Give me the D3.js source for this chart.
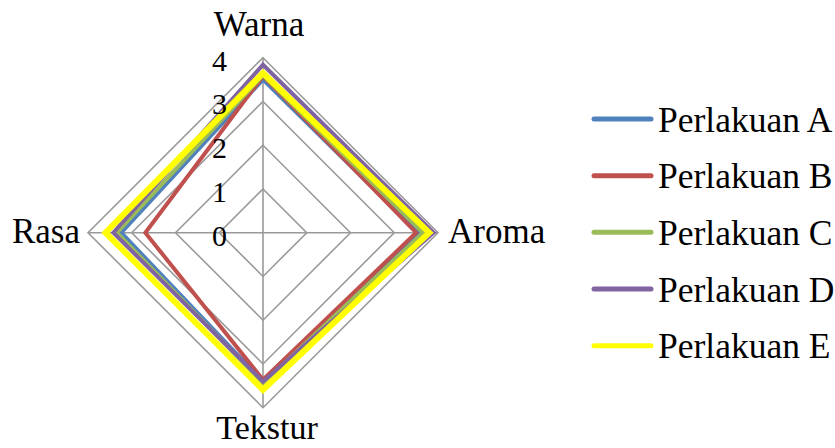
<!DOCTYPE html>
<html>
<head>
<meta charset="utf-8">
<script src="https://cdn.jsdelivr.net/npm/d3@7"></script>
<style>
  html, body { margin: 0; padding: 0; background: #fff; }
  svg { display: block; }
</style>
</head>
<body>
<svg id="chart" width="835" height="448"></svg>
<script>
const categories = ["Warna", "Aroma", "Tekstur", "Rasa"];
const seriesNames = ["Perlakuan A", "Perlakuan B", "Perlakuan C", "Perlakuan D", "Perlakuan E"];
const perlakuanA = [3.50, 3.55, 3.40, 3.24];
const perlakuanB = [3.58, 3.50, 3.36, 2.69];
const perlakuanC = [3.60, 3.66, 3.44, 3.34];
const perlakuanD = [3.84, 3.90, 3.40, 3.42];
const perlakuanE = [3.65, 3.80, 3.59, 3.60];
const tickLabels = ["0", "1", "2", "3", "4"];
const seriesColors = ["#4F81BD", "#C0504D", "#9BBB59", "#8064A2", "#FFFF00"];

const seriesValues = [perlakuanA, perlakuanB, perlakuanC, perlakuanD, perlakuanE];
const FONT = "'Liberation Serif', 'Times New Roman', Tinos, 'DejaVu Serif', serif";

const svg = d3.select("#chart");
const cx = 263, cy = 232.7, R = 175;
const r = d3.scaleLinear().domain([0, 4]).range([0, R]);
const angle = d3.scalePoint().domain(categories).range([0, 2 * Math.PI * 3 / 4]);

const g = svg.append("g").attr("transform", `translate(${cx},${cy})`);

const gridColor = "#9a9a9a";
const ringLine = d3.lineRadial().curve(d3.curveLinearClosed)
  .angle(d => angle(d.c)).radius(d => r(d.v));

[1, 2, 3, 4].forEach(lv => {
  g.append("path")
    .attr("d", ringLine(categories.map(c => ({ c, v: lv }))))
    .attr("fill", "none").attr("stroke", gridColor).attr("stroke-width", 1.6);
});
categories.forEach(c => {
  const a = angle(c);
  g.append("line")
    .attr("x1", 0).attr("y1", 0)
    .attr("x2", r(4) * Math.sin(a)).attr("y2", -r(4) * Math.cos(a))
    .attr("stroke", gridColor).attr("stroke-width", 1.6);
});

seriesValues.forEach((vals, i) => {
  g.append("path")
    .attr("d", ringLine(categories.map((c, k) => ({ c, v: vals[k] }))))
    .attr("fill", "none")
    .attr("stroke", seriesColors[i])
    .attr("stroke-width", i === 4 ? 6 : 4)
    .attr("stroke-linejoin", "miter");
});

tickLabels.forEach(t => {
  g.append("text")
    .attr("x", -36).attr("y", -r(+t) + 13)
    .attr("text-anchor", "end")
    .attr("font-family", FONT)
    .attr("font-size", 30)
    .text(t);
});

const catPos = {
  "Warna": { x: -4, y: 36 - cy, anchor: "middle" },
  "Aroma": { x: 448 - cx, y: 10.5, anchor: "start" },
  "Tekstur": { x: 4, y: 439.5 - cy, anchor: "middle" },
  "Rasa": { x: 80 - cx, y: 10.5, anchor: "end" }
};
categories.forEach(c => {
  const p = catPos[c];
  g.append("text")
    .attr("x", p.x).attr("y", p.y)
    .attr("text-anchor", p.anchor)
    .attr("font-family", FONT)
    .attr("font-size", c === "Tekstur" ? 34 : 35)
    .text(c);
});

const legend = svg.append("g");
const ly = d3.scalePoint().domain(seriesNames).range([119, 345.7]);
seriesNames.forEach((name, i) => {
  legend.append("line")
    .attr("x1", 594).attr("x2", 651)
    .attr("y1", ly(name)).attr("y2", ly(name))
    .attr("stroke", seriesColors[i]).attr("stroke-width", 5)
    .attr("stroke-linecap", "round");
  legend.append("text")
    .attr("x", 658).attr("y", ly(name) + 12.5)
    .attr("font-family", FONT)
    .attr("font-size", 35.5)
    .text(name);
});
</script>
</body>
</html>
